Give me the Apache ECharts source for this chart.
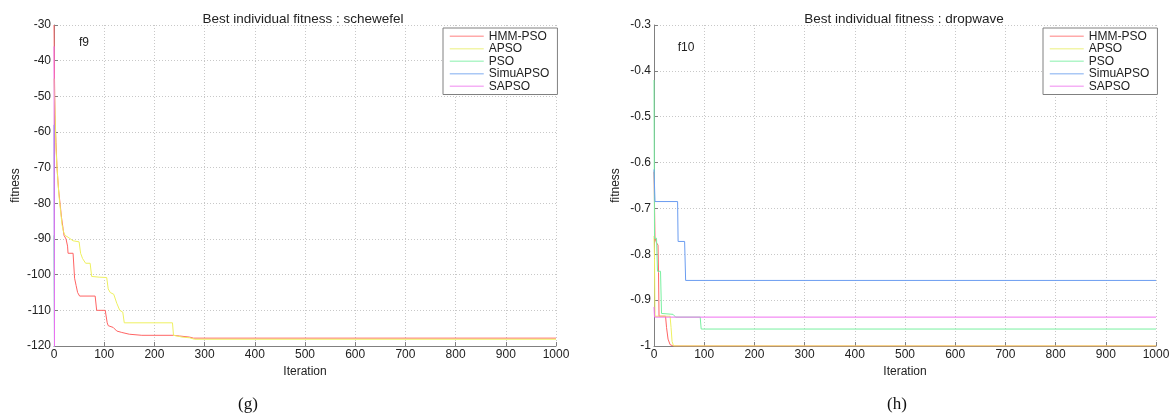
<!DOCTYPE html>
<html>
<head>
<meta charset="utf-8">
<script src="https://cdn.jsdelivr.net/npm/echarts@6/dist/echarts.min.js"></script>
<style>
  html, body { margin: 0; padding: 0; background: #fff; }
  #main { width: 1172px; height: 419px; }
</style>
</head>
<body>
<div id="main"></div>
<script>
// algorithm names (legend order)
var names = ['HMM-PSO', 'APSO', 'PSO', 'SimuAPSO', 'SAPSO'];
var colors = ['#ff6464', '#eef060', '#78f0a0', '#6a9cf0', '#f070f0'];
var legendColors = ['#ffaaaa', '#f2f5a8', '#b0f5c8', '#aac8f5', '#f5b0f5'];

// f9 : schewefel  [iteration, fitness]
var f9Hmm = [[0,-30],[1,-45],[2,-55],[4,-63],[6,-70],[9,-76],[12,-80],[15,-84],[18,-87],[20,-89],[24,-90],[27,-92],[28,-94],[38,-94],[41,-101],[44,-103],[47,-105],[51,-106],[82,-106],[85,-110],[102,-110],[106,-113.5],[108,-114.3],[118,-114.8],[125,-115.8],[135,-116.2],[150,-116.7],[175,-117],[238,-117],[250,-117.2],[270,-117.5],[278,-117.8],[1000,-117.8]];
var f9Apso = [[0,-45],[2,-55],[4,-65],[7,-72],[10,-78],[13,-82],[16,-86],[19,-88],[22,-89],[28,-89.5],[38,-90.5],[50,-90.8],[53,-94],[57,-95.5],[63,-96.8],[72,-96.8],[75,-100.5],[90,-100.7],[105,-100.8],[108,-104],[112,-105],[119,-105.5],[125,-108],[131,-110],[137,-110.5],[140,-113.5],[236,-113.5],[238,-117],[245,-117.2],[255,-117.5],[270,-117.7],[280,-118.1],[1000,-118.1]];
var f9Pso = [[0,-89],[1,-121],[1000,-121]];
var f9Simu = [[0,-58],[1,-121],[1000,-121]];
var f9Sapso = [[0,-36],[1,-121],[1000,-121]];

// f10 : dropwave
var f10Hmm = [[0,-0.62],[2,-0.765],[5,-0.775],[8,-0.78],[9,-0.84],[10,-0.935],[23,-0.935],[25,-0.96],[28,-0.985],[32,-0.997],[38,-1],[1000,-1]];
var f10Apso = [[0,-0.76],[1,-0.81],[2,-0.935],[32,-0.935],[34,-0.96],[36,-0.99],[39,-1],[1000,-1]];
var f10Pso = [[0,-0.42],[1,-0.765],[5,-0.765],[7,-0.837],[13,-0.837],[15,-0.929],[38,-0.931],[43,-0.937],[92,-0.937],[94,-0.963],[1000,-0.963]];
var f10Simu = [[0,-0.615],[2,-0.685],[47,-0.685],[48,-0.772],[61,-0.772],[63,-0.857],[1000,-0.857]];
var f10Sapso = [[0,-0.915],[1,-0.937],[1000,-0.937]];

var f9Data = [f9Hmm, f9Apso, f9Pso, f9Simu, f9Sapso];
var f10Data = [f10Hmm, f10Apso, f10Pso, f10Simu, f10Sapso];

var font = 'Liberation Sans, Arial, sans-serif';
var chart = echarts.init(document.getElementById('main'));

function makeX(gi) {
  return {
    type: 'value', gridIndex: gi, min: 0, max: 1000, interval: 100,
    name: 'Iteration', nameLocation: 'middle', nameGap: 11,
    nameTextStyle: { color: '#222', fontSize: 12, fontFamily: font },
    axisLine: { lineStyle: { color: '#808080', width: 1 } },
    axisTick: { inside: true, length: 4, lineStyle: { color: '#808080' } },
    axisLabel: { margin: 3, color: '#222', fontSize: 12, fontFamily: font,
      formatter: function (v) { return String(v); } },
    splitLine: { show: true, lineStyle: { color: '#c8c8c8', type: [1, 2], width: 1 } }
  };
}
function makeY(gi, mn, mx, step) {
  return {
    type: 'value', gridIndex: gi, min: mn, max: mx, interval: step,
    name: 'fitness', nameLocation: 'middle', nameGap: 32,
    nameTextStyle: { color: '#222', fontSize: 12, fontFamily: font },
    axisLine: { show: true, lineStyle: { color: '#808080', width: 1 } },
    axisTick: { show: true, inside: true, length: 4, lineStyle: { color: '#808080' } },
    axisLabel: { margin: 3, color: '#222', fontSize: 12, fontFamily: font },
    splitLine: { show: true, lineStyle: { color: '#c8c8c8', type: [1, 2], width: 1 } }
  };
}
function makeLegend(x) {
  return {
    data: names.map(function (n, i) {
      return { name: n, lineStyle: { color: legendColors[i], width: 1.5 } };
    }),
    orient: 'vertical', left: x, top: 28,
    padding: [2, 8, 2, 6], itemGap: 0, itemWidth: 34, itemHeight: 12,
    backgroundColor: '#fff', borderColor: '#808080', borderWidth: 1, borderRadius: 0,
    itemStyle: { opacity: 0 },
    textStyle: { color: '#222', fontSize: 12, fontFamily: font, lineHeight: 12.5 },
    selectedMode: false
  };
}

var series = [];
names.forEach(function (n, i) {
  series.push({ name: n, type: 'line', xAxisIndex: 0, yAxisIndex: 0, data: f9Data[i],
    symbol: 'none', animation: false, color: colors[i], lineStyle: { width: 1, color: colors[i] } });
});
names.forEach(function (n, i) {
  series.push({ name: n, type: 'line', xAxisIndex: 1, yAxisIndex: 1, data: f10Data[i],
    symbol: 'none', animation: false, color: colors[i], lineStyle: { width: 1, color: colors[i] } });
});

chart.setOption({
  animation: false,
  title: [
    { text: 'Best individual fitness : schewefel', left: 298, top: 7, textAlign: 'center',
      textStyle: { fontSize: 13.5, fontWeight: 'normal', color: '#222', fontFamily: font } },
    { text: 'Best individual fitness : dropwave', left: 899, top: 7, textAlign: 'center',
      textStyle: { fontSize: 13.5, fontWeight: 'normal', color: '#222', fontFamily: font } }
  ],
  grid: [
    { left: 54, top: 25, width: 502, height: 321, outerBoundsMode: 'none' },
    { left: 654, top: 25, width: 502, height: 321, outerBoundsMode: 'none' }
  ],
  xAxis: [makeX(0), makeX(1)],
  yAxis: [makeY(0, -120, -30, 10), makeY(1, -1, -0.3, 0.1)],
  legend: [makeLegend(443), makeLegend(1043)],
  graphic: [
    { type: 'text', x: 84, y: 43, style: { text: 'f9', font: '12px ' + font, fill: '#222', align: 'center', verticalAlign: 'middle' } },
    { type: 'text', x: 686, y: 48, style: { text: 'f10', font: '12px ' + font, fill: '#222', align: 'center', verticalAlign: 'middle' } },
    { type: 'text', x: 248, y: 405, style: { text: '(g)', font: '17px Liberation Serif, Times New Roman, serif', fill: '#111', align: 'center', verticalAlign: 'middle' } },
    { type: 'text', x: 897, y: 405, style: { text: '(h)', font: '17px Liberation Serif, Times New Roman, serif', fill: '#111', align: 'center', verticalAlign: 'middle' } }
  ],
  series: series
});
</script>
</body>
</html>
